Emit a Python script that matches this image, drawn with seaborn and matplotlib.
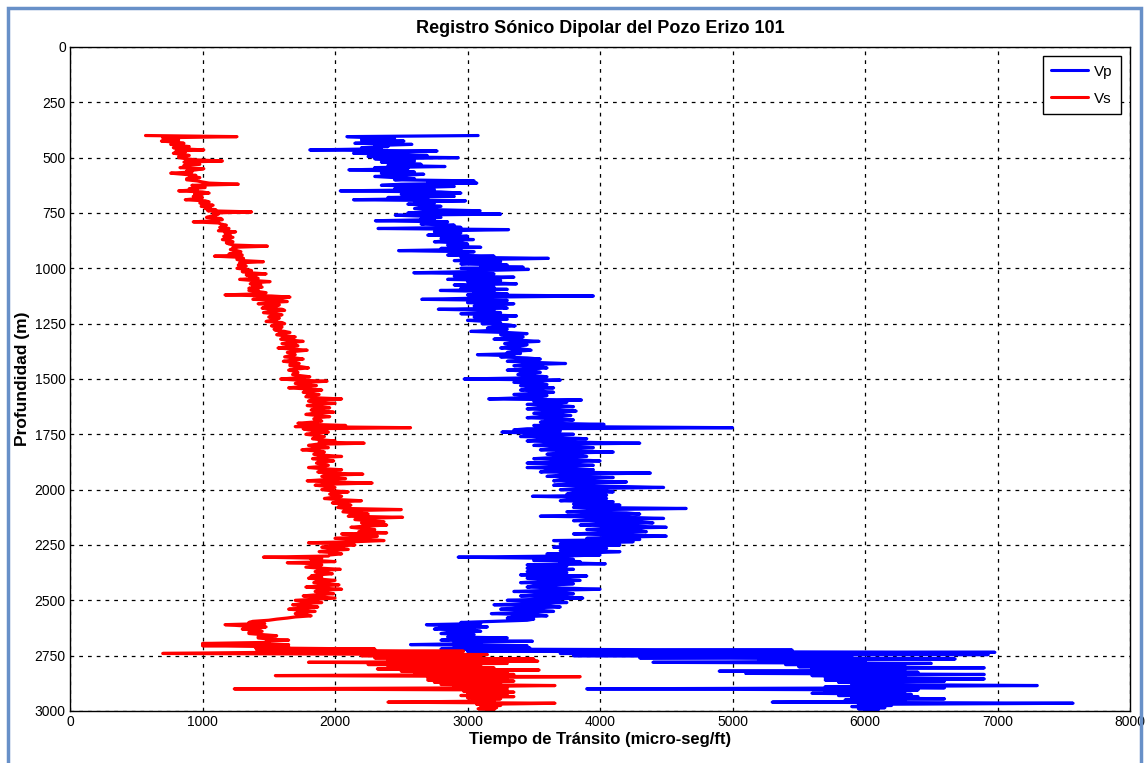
import numpy as np
import pandas as pd
import matplotlib
matplotlib.use("Agg")
import matplotlib.pyplot as plt
import seaborn as sns
from matplotlib.patches import Rectangle

# profundidad cada 5 m desde 400 hasta 3000
profundidad = list(range(400, 3001, 5))

# Vs (rojo), una fila por cada 100 m
vs = [
    570, 1260, 700, 760, 820, 690, 800, 860, 760, 820, 900, 780, 840, 1010, 800, 870, 780, 850, 900, 820,
    820, 880, 950, 1150, 860, 920, 980, 860, 900, 830, 1010, 950, 880, 920, 760, 860, 950, 900, 980, 880,
    880, 960, 1000, 1050, 1270, 920, 980, 1020, 900, 960, 820, 1000, 1050, 940, 990, 930, 1000, 960, 870, 1020,
    1050, 980, 1020, 1080, 990, 1060, 1020, 1100, 1040, 1370, 1080, 1120, 1100, 1060, 1030, 1140, 1150, 1100, 930, 1120,
    1140, 1180, 1160, 1130, 1200, 1150, 1120, 1250, 1170, 1190, 1210, 1160, 1230, 1180, 1150, 1210, 1230, 1180, 1200, 1240,
    1490, 1230, 1250, 1210, 1260, 1290, 1240, 1200, 1300, 1090, 1280, 1310, 1260, 1300, 1460, 1280, 1320, 1270, 1330, 1300,
    1260, 1330, 1370, 1300, 1350, 1480, 1330, 1400, 1360, 1420, 1280, 1380, 1510, 1400, 1360, 1440, 1380, 1450, 1350, 1420,
    1350, 1420, 1480, 1450, 1170, 1520, 1660, 1480, 1380, 1600, 1640, 1500, 1420, 1580, 1560, 1470, 1450, 1600, 1620, 1500,
    1460, 1540, 1600, 1520, 1500, 1580, 1560, 1520, 1480, 1600, 1620, 1550, 1520, 1600, 1590, 1540, 1550, 1620, 1660, 1580,
    1560, 1620, 1700, 1640, 1590, 1680, 1760, 1650, 1600, 1700, 1720, 1640, 1570, 1680, 1790, 1700, 1640, 1690, 1700, 1660,
    1620, 1700, 1760, 1680, 1610, 1690, 1730, 1660, 1660, 1750, 1800, 1700, 1650, 1700, 1720, 1690, 1680, 1740, 1810, 1720,
    1590, 1720, 1940, 1780, 1700, 1760, 1860, 1740, 1650, 1800, 1900, 1780, 1760, 1820, 1880, 1790, 1780, 1850, 2050, 1830,
    1800, 1880, 2000, 1850, 1790, 1860, 1960, 1850, 1820, 1900, 1990, 1840, 1780, 1870, 1960, 1860, 1840, 1880, 1900, 1830,
    1720, 1820, 2080, 1700, 2570, 1760, 1800, 1900, 1950, 1830, 1780, 1860, 1920, 1850, 1830, 1900, 2000, 1880, 2220, 1860,
    1800, 1880, 1950, 1840, 1750, 1860, 1920, 1870, 1840, 1930, 2050, 1880, 1830, 1900, 1990, 1880, 1860, 1920, 1950, 1900,
    1800, 1900, 2050, 1920, 1870, 1950, 2210, 1930, 1900, 1980, 2080, 1920, 1790, 1950, 2280, 1960, 1850, 1940, 2000, 1950,
    1900, 1980, 2100, 1990, 1960, 2010, 2050, 1980, 1920, 2030, 2200, 2040, 1980, 2060, 2120, 2040, 2020, 2080, 2500, 2070,
    2060, 2150, 2250, 2120, 2100, 2510, 2180, 2150, 2250, 2370, 2200, 2260, 2390, 2220, 2120, 2200, 2300, 2250, 2180, 2390,
    2050, 2200, 2320, 2160, 2000, 2250, 2370, 2150, 1800, 2100, 2150, 2000, 1900, 2050, 2100, 1950, 1880, 2000, 2050, 1960,
    1950, 1460, 1900, 1820, 1860, 2000, 1640, 1880, 1900, 1840, 1780, 1900, 2040, 1880, 1850, 1930, 1980, 1860, 1820, 1900,
    1800, 1900, 2000, 1860, 1840, 1950, 2030, 1880, 1780, 1900, 2050, 1870, 1850, 1920, 1990, 1860, 1760, 1880, 2000, 1850,
    1700, 1800, 1900, 1760, 1680, 1780, 1870, 1740, 1650, 1760, 1850, 1720, 1700, 1780, 1820, 1700, 1640, 1560, 1500, 1380,
    1350, 1470, 1170, 1300, 1480, 1380, 1300, 1420, 1450, 1350, 1350, 1460, 1560, 1420, 1420, 1510, 1650, 1480, 1500, 1000,
    1650, 1000, 1650, 1400, 2300, 1410, 2970, 1500, 700, 3150, 2200, 3100, 2300, 3500, 2400, 3530, 1800, 3300, 2250, 3100,
    2400, 3200, 2320, 3540, 2500, 3300, 2600, 3350, 1550, 3850, 2700, 3300, 2700, 3350, 2750, 3250, 2800, 3660, 2900, 3300,
    1240, 3300, 2970, 3350, 3000, 3300, 2950, 3350, 3000, 3250, 3050, 3200, 2400, 3660, 3070, 3250, 3100, 3220, 3080, 3200,
    3150,
]

# Vp (azul)
vp = [
    3080, 2090, 2300, 2450, 2200, 2520, 2350, 2150, 2580, 2300, 2400, 2200, 2350, 1810, 2770, 2300, 2140, 2490, 2695, 2250,
    2930, 2300, 2450, 2600, 2350, 2500, 2650, 2400, 2830, 2300, 2550, 2105, 2450, 2600, 2350, 2670, 2500, 2300, 2450, 2600,
    2450, 3050, 2700, 3070, 2500, 2350, 2900, 2600, 2450, 2750, 2040, 2800, 2950, 2500, 2650, 2900, 2400, 2700, 2140, 2985,
    2600, 2750, 2550, 2700, 2800, 2650, 2600, 2750, 3095, 2700, 2550, 3250, 2455, 2700, 2800, 2650, 2750, 2305, 2850, 2700,
    2650, 2900, 2800, 2950, 2325, 3310, 2850, 2750, 2950, 2800, 2700, 3000, 2900, 2800, 3045, 2850, 2750, 2950, 3000, 2850,
    2900, 3100, 2800, 2950, 2480, 3050, 2900, 3000, 2850, 3200, 2950, 3610, 3100, 2900, 3250, 3050, 2950, 3300, 3100, 3420,
    2950, 3460, 3100, 3000, 2595, 3200, 3050, 2900, 3350, 3100, 2850, 3250, 3000, 3150, 3370, 2900, 3050, 3200, 2950, 3300,
    2795, 3200, 3050, 3300, 3000, 3950, 3150, 3050, 2655, 3300, 3100, 3000, 3350, 3200, 3050, 3250, 3300, 2780, 3200, 3100,
    3250, 2950, 3150, 3370, 3050, 3200, 3300, 3000, 3150, 3250, 3110, 3300, 3360, 3200, 3150, 3300, 3200, 3025, 3300, 3450,
    3250, 3350, 3420, 3300, 3200, 3400, 3540, 3350, 3280, 3450, 3400, 3300, 3250, 3420, 3480, 3350, 3300, 3400, 3075, 3350,
    3250, 3450, 3550, 3400, 3300, 3500, 3740, 3450, 3350, 3550, 3600, 3450, 3300, 3500, 3550, 3400, 3380, 3500, 3600, 3450,
    2975, 3700, 3450, 3350, 3550, 3600, 3400, 3500, 3650, 3450, 3400, 3550, 3650, 3500, 3350, 3600, 3550, 3400, 3160, 3860,
    3500, 3750, 3600, 3450, 3700, 3800, 3550, 3450, 3650, 3820, 3600, 3500, 3700, 3780, 3550, 3450, 3700, 3800, 3600, 3550,
    3600, 4030, 3500, 3700, 5000, 3450, 3350, 3700, 3260, 3500, 3800, 3450, 3400, 3700, 3900, 3550, 3450, 3750, 4300, 3600,
    3500, 3750, 3950, 3650, 3550, 3800, 4100, 3700, 3600, 3850, 3900, 3650, 3500, 3800, 4000, 3700, 3450, 3800, 3950, 3700,
    3450, 3750, 3950, 3600, 3550, 4380, 3800, 3700, 3600, 4100, 3900, 3700, 3650, 4200, 3900, 3750, 3650, 4100, 4480, 3850,
    3700, 4000, 4100, 3800, 3750, 4050, 3490, 3900, 4050, 3800, 3700, 4100, 3950, 3800, 4150, 3900, 3800, 4650, 4000, 3900,
    3750, 4200, 4300, 3900, 3550, 4200, 4480, 3950, 3800, 4300, 4400, 4000, 3850, 4250, 4500, 4050, 3900, 4300, 4350, 4000,
    3800, 4200, 4500, 4100, 3900, 4300, 3650, 4250, 3950, 3700, 4150, 3900, 3650, 4050, 3850, 3700, 4150, 3950, 3600, 4000,
    3700, 2930, 3650, 3800, 3500, 3850, 3700, 4040, 3450, 3750, 3650, 3450, 3800, 3600, 3450, 3750, 3650, 3400, 3900, 3600,
    3450, 3750, 3850, 3550, 3400, 3800, 3650, 3500, 3450, 3750, 4000, 3600, 3350, 3700, 3800, 3550, 3400, 3750, 3870, 3550,
    3300, 3650, 3750, 3450, 3200, 3600, 3700, 3400, 3250, 3550, 3650, 3400, 3180, 3500, 3600, 3350, 3300, 3500, 3450, 3200,
    2950, 3100, 2690, 2900, 3150, 2800, 2750, 3050, 3100, 2850, 2800, 3050, 2950, 2850, 3300, 2900, 2800, 3490, 2900, 3100,
    2570, 3450, 2900, 3470, 2800, 5450, 3000, 6980, 3700, 6930, 3800, 5900, 4300, 6680, 5200, 6000, 4400, 6500, 5400, 6300,
    5500, 6900, 5600, 6300, 4900, 6400, 5100, 6900, 5600, 6300, 5700, 6900, 5700, 6600, 5800, 6200, 5900, 7300, 5700, 6600,
    3900, 6400, 5700, 6300, 5600, 6350, 5800, 6400, 5900, 6600, 5850, 6300, 5300, 7570, 5950, 6200, 5900, 6150, 5950, 6100,
    6000,
]

df = pd.concat([
    pd.DataFrame({"prof": profundidad, "t": vp, "onda": "Vp"}),
    pd.DataFrame({"prof": profundidad, "t": vs, "onda": "Vs"}),
])

sns.set_theme(style="white")
plt.rcParams["font.family"] = ["Liberation Sans", "DejaVu Sans"]
for k in ["text.color", "axes.labelcolor", "xtick.color", "ytick.color"]:
    plt.rcParams[k] = "black"

fig = plt.figure(figsize=(11.46, 7.63), dpi=100)
ax = fig.add_axes([70 / 1146, 1 - 711 / 763, 1060 / 1146, 664 / 763])

sns.lineplot(data=df, x="t", y="prof", hue="onda", palette={"Vp": "blue", "Vs": "red"},
             sort=False, estimator=None, orient="y", linewidth=2.3, ax=ax)

ax.set_xlim(0, 8000)
ax.set_ylim(3000, 0)
ax.set_xticks(range(0, 8001, 1000))
ax.set_yticks(range(0, 3001, 250))
ax.tick_params(direction="in", length=4, labelsize=10, colors="black", pad=3)
ax.grid(True, color="black", linestyle=(0, (3, 4)), linewidth=0.9)
for s in ax.spines.values():
    s.set_visible(True)
    s.set_color("black")
    s.set_linewidth(1.0)

ax.set_title("Registro Sónico Dipolar del Pozo Erizo 101", fontsize=13, fontweight="bold", pad=10)
ax.set_xlabel("Tiempo de Tránsito (micro-seg/ft)", fontsize=12, fontweight="bold", labelpad=2)
ax.set_ylabel("Profundidad (m)", fontsize=12.5, fontweight="bold")
ax.yaxis.set_label_coords(-0.038, 0.5)

leg = ax.legend(loc="upper right", fontsize=11, frameon=True, fancybox=False,
                edgecolor="black", framealpha=1, handlelength=2.4, handletextpad=0.4,
                labelspacing=0.85, borderpad=0.55, borderaxespad=0.6)
leg.get_frame().set_linewidth(1.0)
for h in leg.get_lines():
    h.set_linewidth(2.2)

# marco azul alrededor de la figura
fig.patches.append(Rectangle((8 / 1146, -0.05), 1133 / 1146, 1.05 - 8 / 763,
                             transform=fig.transFigure, fill=False,
                             edgecolor="#6890c8", linewidth=2.5))

fig.savefig("out.png", dpi=100)
